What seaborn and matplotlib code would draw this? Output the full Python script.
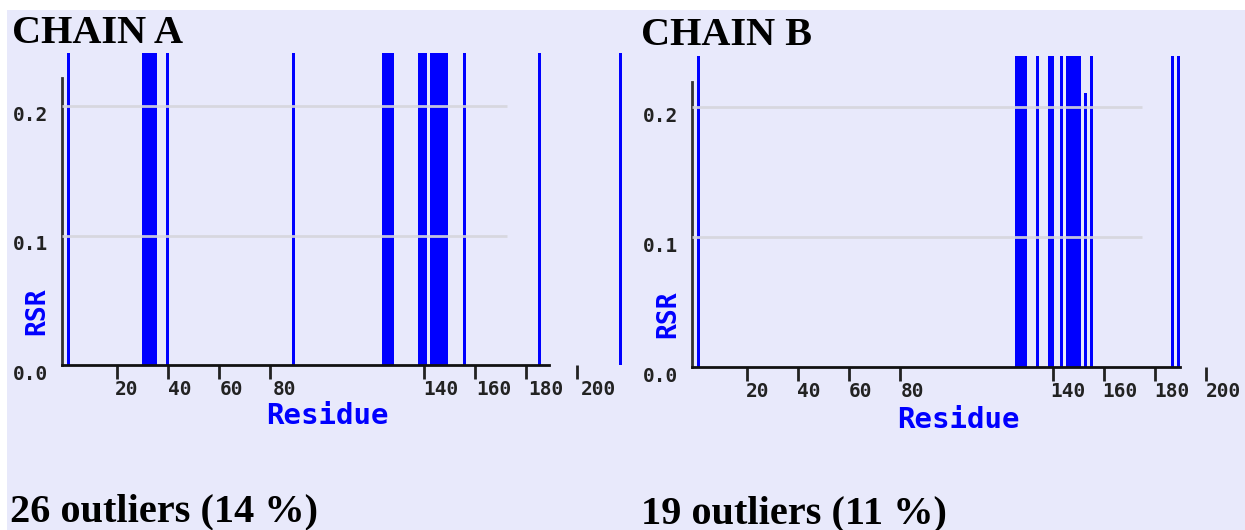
import matplotlib
matplotlib.use("Agg")
import matplotlib.pyplot as plt
import matplotlib.transforms as mtransforms
from matplotlib.patches import Rectangle
import seaborn as sns

# ---- data -------------------------------------------------------------
# RSR outlier residues (index along the chain) and their RSR values
chain_a_residues = [2, 27, 28, 29, 30, 31, 35, 77, 107, 108, 109, 110,
                    119, 120, 121, 123, 124, 125, 126, 127, 128, 134, 159, 186]
chain_a_rsr = [0.31, 0.42, 0.38, 0.45, 0.36, 0.29, 0.27, 0.33, 0.41, 0.35, 0.30, 0.28,
               0.34, 0.39, 0.29, 0.44, 0.37, 0.32, 0.40, 0.36, 0.30, 0.27, 0.33, 0.29]

chain_b_residues = [2, 108, 109, 110, 111, 115, 119, 120, 123, 125, 126,
                    127, 128, 129, 131, 133, 160, 162]
chain_b_rsr = [0.28, 0.43, 0.38, 0.35, 0.31, 0.27, 0.30, 0.33, 0.29, 0.36, 0.41,
               0.34, 0.30, 0.27, 0.211, 0.26, 0.29, 0.31]

tick_values = [20, 40, 60, 80, 140, 160, 180, 200]
y_tick_values = [0.0, 0.1, 0.2]
y_tick_labels = ["0.0", "0.1", "0.2"]
grid_values = [0.1, 0.2]

titles = ["CHAIN A", "CHAIN B"]
notes = ["26 outliers (14 %)", "19 outliers (11 %)"]

# ---- style ------------------------------------------------------------
sns.set_theme(style="white")
plt.rcParams["font.family"] = ["DejaVu Sans"]

W, H = 1245, 530
BG = "#e8e9fb"
BLUE = "#0000ff"
MONO = "DejaVu Sans Mono"
SERIF = "Liberation Serif"

fig = plt.figure(figsize=(W / 100, H / 100), dpi=100)
fig.patch.set_facecolor("white")
fig.add_artist(Rectangle((7 / W, 0), 1 - 7 / W, 1 - 10 / H,
                         transform=fig.transFigure, facecolor=BG,
                         edgecolor="none", zorder=-10))


def fx(x):
    return x / W


def fy(y):
    return 1 - y / H


# pixel layout of each panel
layouts = [
    dict(left=40, right=634, bar0=62.3, tick0=65.4, tick_ppu=2.558,
         zero_y=365.2, y_ppu=1295, top=53, spine_top=0.222,
         axis_end=189, grid_end=172.6, lab_start=24.1, lab_scale=1.024,
         title_xy=(12, 43), note_xy=(10, 521), rsr_xy=(37, 311),
         residue_xy=(327, 416)),
    dict(left=670, right=1240, bar0=692.3, tick0=695.8, tick_ppu=2.551,
         zero_y=367.0, y_ppu=1300, top=56, spine_top=0.219,
         axis_end=190, grid_end=174.8, lab_start=24.1, lab_scale=1.016,
         title_xy=(641, 45), note_xy=(641, 523), rsr_xy=(668, 314),
         residue_xy=(958, 420)),
]

series = [(chain_a_residues, chain_a_rsr), (chain_b_residues, chain_b_rsr)]

down8 = mtransforms.ScaledTranslation(0, -7 / 100, fig.dpi_scale_trans)

for (residues, rsr), L, title, note in zip(series, layouts, titles, notes):
    ymax = (L["zero_y"] - L["top"]) / L["y_ppu"]
    ax = fig.add_axes([fx(L["left"]), fy(L["zero_y"]),
                       (L["right"] - L["left"]) / W,
                       (L["zero_y"] - L["top"]) / H])
    ax.set_facecolor("none")

    # outlier bars, one per residue
    sns.barplot(x=residues, y=rsr, native_scale=True, orient="x",
                color=BLUE, saturation=1, width=0.88, linewidth=0,
                errorbar=None, ax=ax)
    ax.set_xlim((L["left"] - L["bar0"]) / 3, (L["right"] - L["bar0"]) / 3)
    ax.set_xlabel("")
    ax.set_ylabel("")
    ax.set_xticks([])
    for s in ("top", "right", "bottom"):
        ax.spines[s].set_visible(False)
    ax.spines["left"].set_position(("data", 0))
    ax.spines["left"].set_bounds(0, L["spine_top"])
    ax.spines["left"].set_color("#333333")
    ax.spines["left"].set_linewidth(2)

    ax.set_yticks(y_tick_values, labels=y_tick_labels)
    ax.tick_params(axis="y", length=0, pad=10, labelsize=14,
                   labelcolor="#222222")
    for lab in ax.get_yticklabels():
        lab.set_fontfamily(MONO)
        lab.set_fontweight("bold")
        lab.set_transform(lab.get_transform() + down8)

    # frame axis: residue ruler, gridlines
    axt = ax.twiny()
    axt.set_facecolor("none")
    axt.xaxis.set_ticks_position("bottom")
    axt.xaxis.set_label_position("bottom")
    for s in ("top", "right", "left"):
        axt.spines[s].set_visible(False)
    spine_tick = (L["bar0"] - L["tick0"]) / L["tick_ppu"]
    axt.spines["bottom"].set_bounds(spine_tick, L["axis_end"])
    axt.spines["bottom"].set_linewidth(2)
    axt.spines["bottom"].set_color("#111111")

    axt.hlines(grid_values, xmin=spine_tick, xmax=L["grid_end"],
               color="#d6d6dc", lw=2, alpha=0.9, zorder=3)

    axt.xaxis.remove_overlapping_locs = False
    lab_pos = [L["lab_start"] + (v - 20) * L["lab_scale"] for v in tick_values]
    axt.set_xticks(lab_pos, labels=[str(v) for v in tick_values])
    axt.set_xticks(tick_values, minor=True)
    axt.tick_params(axis="x", which="major", length=0, pad=10.5,
                    labelsize=14, labelcolor="#222222")
    axt.tick_params(axis="x", which="minor", length=10, width=2,
                    color="#222222", direction="out")
    for lab in axt.get_xticklabels():
        lab.set_fontfamily(MONO)
        lab.set_fontweight("bold")
    axt.set_xlim((L["left"] - L["tick0"]) / L["tick_ppu"],
                 (L["right"] - L["tick0"]) / L["tick_ppu"])
    ax.set_ylim(0, ymax)
    axt.set_ylim(0, ymax)

    fig.text(fx(L["title_xy"][0]), fy(L["title_xy"][1]), title,
             family=SERIF, weight="bold", size=29, color="black",
             ha="left", va="baseline")
    fig.text(fx(L["note_xy"][0]), fy(L["note_xy"][1]), note,
             family=SERIF, weight="bold", size=29, color="black",
             ha="left", va="baseline")
    fig.text(fx(L["rsr_xy"][0]), fy(L["rsr_xy"][1]), "RSR",
             family=MONO, weight="bold", size=19, color=BLUE,
             rotation=90, ha="center", va="center")
    fig.text(fx(L["residue_xy"][0]), fy(L["residue_xy"][1]), "Residue",
             family=MONO, weight="bold", size=21, color=BLUE,
             ha="center", va="center")

fig.savefig("out.png", dpi=100, facecolor=fig.get_facecolor())
